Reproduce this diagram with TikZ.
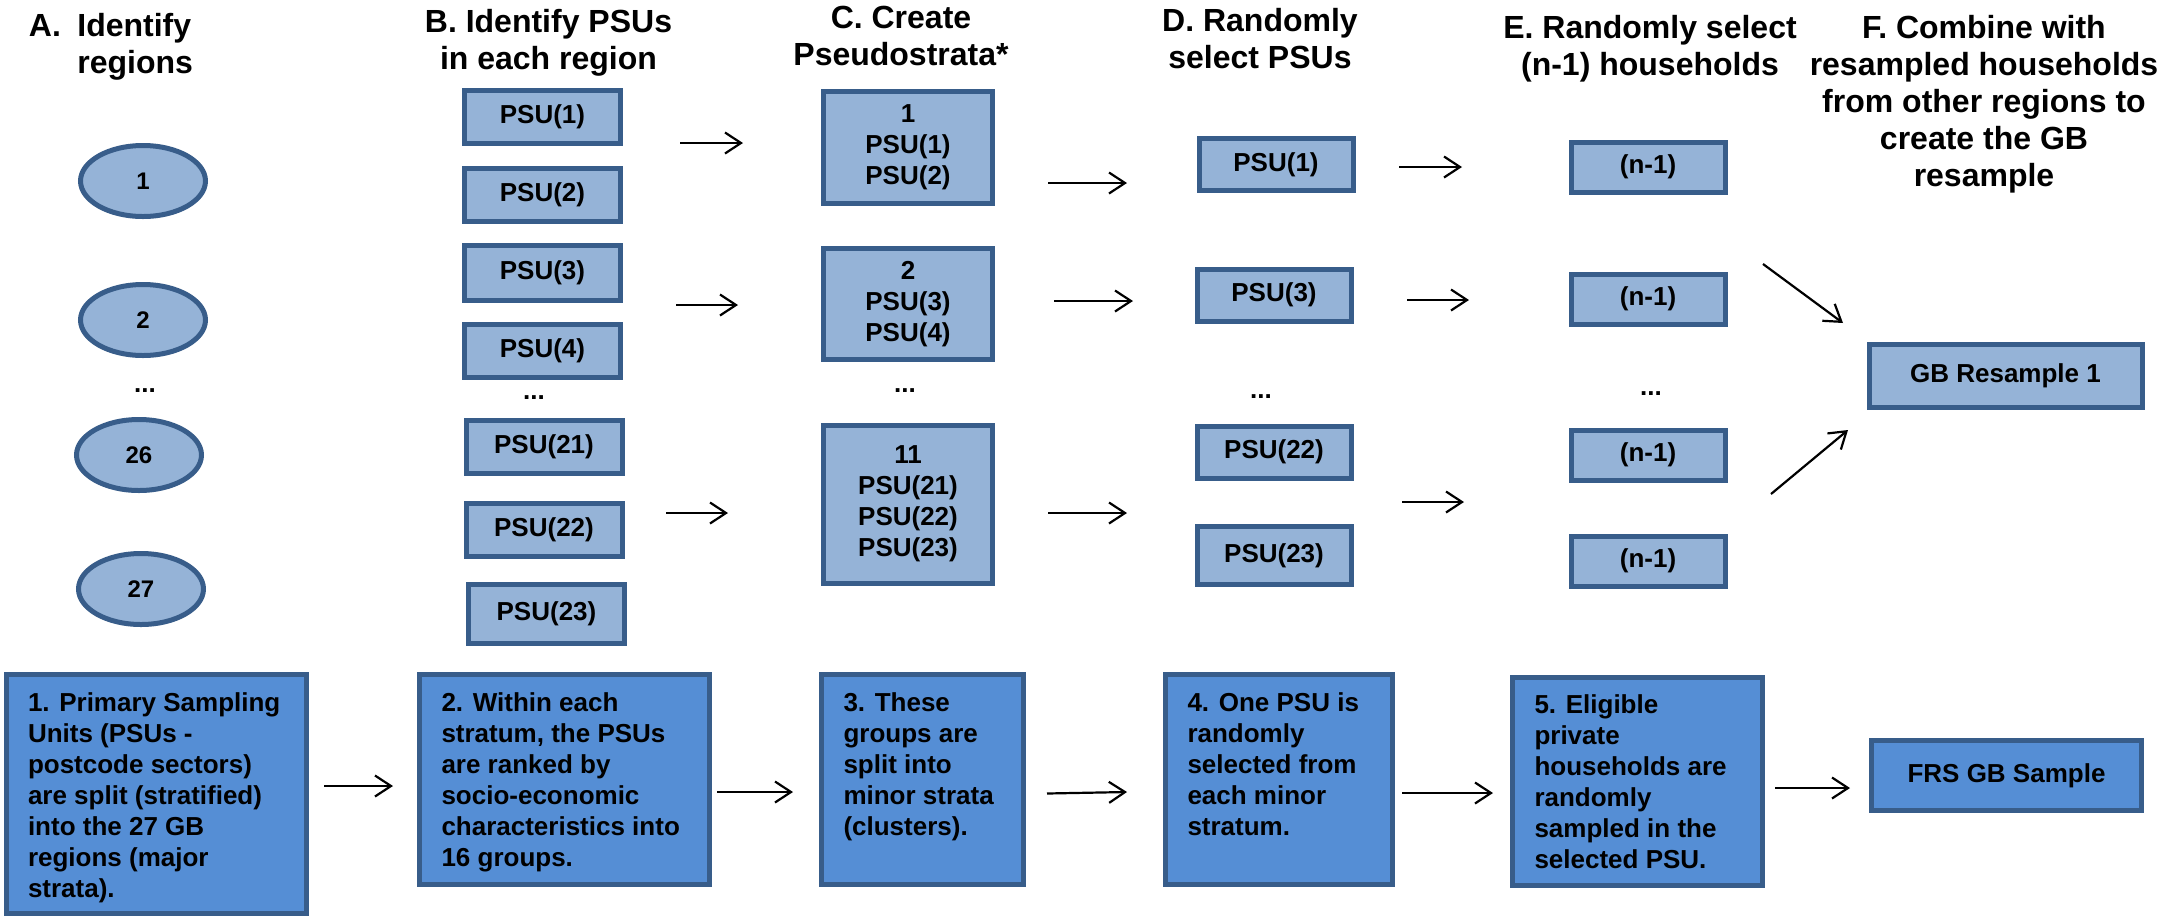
\documentclass[tikz,border=0pt]{standalone}
\usepackage{fontspec}
\setmainfont{Liberation Sans}
\usetikzlibrary{arrows.meta,shapes.geometric}
\definecolor{bdr}{HTML}{385D8A}
\definecolor{lfill}{HTML}{95B3D7}
\definecolor{dfill}{HTML}{558ED5}
\newcommand\btext[3]{\parbox[c][#2][t]{#1}{\raggedright #3}}
\begin{document}
\begin{tikzpicture}[x=0.5pt,y=-0.5pt,
  title/.style={font=\bfseries\fontsize{16}{18.5}\selectfont, inner sep=0pt, align=center, anchor=north},
  lbl/.style={font=\bfseries\fontsize{13}{15.5}\selectfont},
  lbox/.style={lbl, draw=bdr, fill=lfill, line width=2.5pt, rectangle, inner sep=0pt, align=center},
  psu/.style={lbox, minimum width=78pt, minimum height=26.5pt},
  reg/.style={draw=bdr, fill=lfill, line width=2.5pt, ellipse, inner sep=0pt, minimum width=62.5pt, minimum height=35.5pt, font=\bfseries\fontsize{12}{14}\selectfont},
  strat/.style={lbox, minimum width=84.5pt},
  sel/.style={lbox, minimum width=77pt},
  dbox/.style={lbl, draw=bdr, fill=dfill, line width=2.5pt, rectangle, inner xsep=11pt, inner ysep=9pt},
  dots/.style={lbl, inner sep=0pt},
  arr/.style={line width=1.1pt, -{Straight Barb[length=8pt,width=10.5pt]}}
]
\path[use as bounding box] (0,0) rectangle (2165,917);

% ---- titles
\node[title, anchor=north west, align=left] (tA) at (28.5,13) {A.\hspace{8.25pt}Identify\\\hspace*{24.25pt}regions};
\node[title] (tB) at (548.5,8.5) {B. Identify PSUs\\in each region};
\node[title] (tC) at (901,6) {C. Create\\Pseudostrata*};
\node[title] (tD) at (1260,8) {D. Randomly\\select PSUs};
\node[title] (tE) at (1650,15) {E. Randomly select\\(n-1) households};
\node[title] (tF) at (1984,15) {F. Combine with\\resampled households\\from other regions to\\create the GB\\resample};

% ---- A: regions
\node[reg] (r1) at (143,181) {1};
\node[reg] (r2) at (143,320) {2};
\node[dots] (rdots) at (145,391) {...};
\node[reg] (r26) at (139,455) {26};
\node[reg] (r27) at (141,589) {27};

% ---- B: PSUs
\node[psu] (b1) at (542.5,117) {PSU(1)};
\node[psu] (b2) at (542.5,195) {PSU(2)};
\node[psu, minimum height=27.5pt] (b3) at (542.5,273) {PSU(3)};
\node[psu] (b4) at (542.5,351) {PSU(4)};
\node[dots] (bdots) at (534,398) {...};
\node[psu] (b21) at (544,447) {PSU(21)};
\node[psu] (b22) at (544,530) {PSU(22)};
\node[psu, minimum height=29.5pt] (b23) at (546.5,614) {PSU(23)};

% ---- C: pseudostrata
\node[strat, minimum height=56pt] (c1) at (908,147) {1\\PSU(1)\\PSU(2)};
\node[strat, minimum height=55.5pt] (c2) at (908,304) {2\\PSU(3)\\PSU(4)};
\node[dots] (cdots) at (905,391) {...};
\node[strat, minimum height=79pt] (c11) at (908,504) {11\\PSU(21)\\PSU(22)\\PSU(23)};

% ---- D: selected PSUs
\node[sel, minimum height=26pt] (d1) at (1276,164.5) {PSU(1)};
\node[sel, minimum height=26pt] (d3) at (1274,295) {PSU(3)};
\node[dots] (ddots) at (1261,397) {...};
\node[sel, minimum height=26pt] (d22) at (1274,452) {PSU(22)};
\node[sel, minimum height=29pt] (d23) at (1274,555.5) {PSU(23)};

% ---- E: households
\node[sel, minimum height=25pt] (e1) at (1648,167) {(n-1)};
\node[sel, minimum height=25pt] (e2) at (1648,299) {(n-1)};
\node[dots] (edots) at (1651,393.5) {...};
\node[sel, minimum height=25pt] (e3) at (1648,455) {(n-1)};
\node[sel, minimum height=25pt] (e4) at (1648,561) {(n-1)};

% ---- F: resample
\node[lbox, minimum width=136.5pt, minimum height=31.5pt] (gb) at (2005.5,376) {GB Resample 1};

% ---- bottom process boxes
\node[dbox] (s1) at (156,794) {\btext{128pt}{101.5pt}{1. Primary Sampling\\Units (PSUs -\\postcode sectors)\\are split (stratified)\\into the 27 GB\\regions (major\\strata).}};
\node[dbox] (s2) at (564.5,779.5) {\btext{123pt}{87pt}{2. Within each\\stratum, the PSUs\\are ranked by\\socio-economic\\characteristics into\\16 groups.}};
\node[dbox] (s3) at (922.5,779.5) {\btext{79pt}{87pt}{3. These\\groups are\\split into\\minor strata\\(clusters).}};
\node[dbox] (s4) at (1279,779.5) {\btext{91.5pt}{87pt}{4. One PSU is\\randomly\\selected from\\each minor\\stratum.}};
\node[dbox] (s5) at (1637.5,781) {\btext{103pt}{86pt}{5. Eligible\\private\\households are\\randomly\\sampled in the\\selected PSU.}};
\node[dbox, inner sep=0pt, minimum width=135pt, minimum height=35pt] (frs) at (2006.5,775.5) {\raisebox{2pt}{FRS GB Sample}};

% ---- arrow end points
\coordinate (a1s) at (680,143);  \coordinate (a1e) at (743,143);
\coordinate (a2s) at (676,305);  \coordinate (a2e) at (738,305);
\coordinate (a3s) at (666,513);  \coordinate (a3e) at (728,513);
\coordinate (b1s) at (1048,183); \coordinate (b1e) at (1127,183);
\coordinate (b2s) at (1054,301); \coordinate (b2e) at (1133,301);
\coordinate (b3s) at (1048,513); \coordinate (b3e) at (1127,513);
\coordinate (c1s) at (1399,167); \coordinate (c1e) at (1462,167);
\coordinate (c2s) at (1407,300); \coordinate (c2e) at (1469,300);
\coordinate (c3s) at (1402,502); \coordinate (c3e) at (1464,502);
\coordinate (f1s) at (1763,264); \coordinate (f1e) at (1843,323);
\coordinate (f2s) at (1771,494); \coordinate (f2e) at (1848,430);
\coordinate (p1s) at (324,786);  \coordinate (p1e) at (393,786);
\coordinate (p2s) at (717,792);  \coordinate (p2e) at (793,792);
\coordinate (p3s) at (1047,793.5); \coordinate (p3e) at (1127,792);
\coordinate (p4s) at (1402,793); \coordinate (p4e) at (1493,793);
\coordinate (p5s) at (1775,788); \coordinate (p5e) at (1850,788);

\foreach \a in {a1,a2,a3,b1,b2,b3,c1,c2,c3,f1,f2,p1,p2,p3,p4,p5}
  \draw[arr] (\a s) -- (\a e);
\end{tikzpicture}
\end{document}
